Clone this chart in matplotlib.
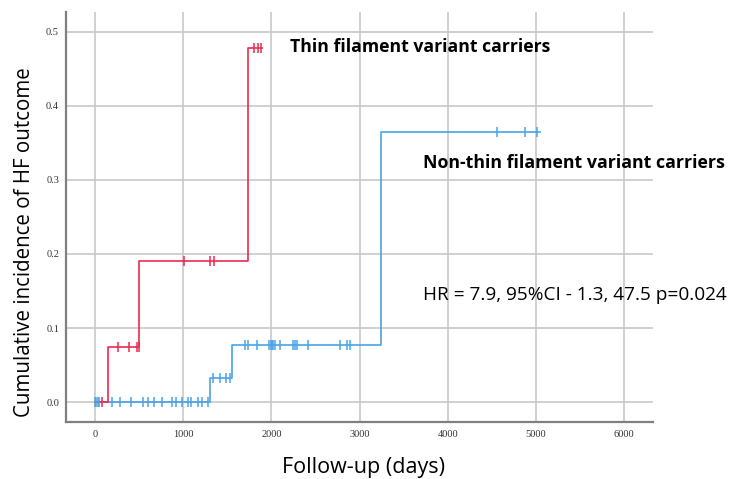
import numpy as np
from matplotlib import pyplot as plt

# thin filament variant carriers (red)
thin_t = [0, 150, 500, 1735]
thin_y = [0.0, 0.074, 0.191, 0.479]
thin_end = 1893
thin_cens = [80, 265, 390, 480, 495, 1010, 1305, 1350, 1800, 1850, 1880]

# non-thin filament variant carriers (blue)
non_t = [0, 1305, 1550, 3245]
non_y = [0.0, 0.033, 0.077, 0.365]
non_end = 5045
non_cens = [0, 15, 30, 50, 190, 285, 410, 545, 605, 670, 760, 875, 915, 990,
            1055, 1090, 1170, 1215, 1285, 1340, 1420, 1480, 1530, 1700, 1735,
            1835, 1975, 1990, 2005, 2020, 2040, 2100, 2250, 2270, 2290, 2415,
            2780, 2860, 2890, 4560, 4875, 5010]

x_ticks = [0, 1000, 2000, 3000, 4000, 5000, 6000]
y_ticks = [0.0, 0.1, 0.2, 0.3, 0.4, 0.5]

red = '#ec2a52'
blue = '#4aa3e8'

fig = plt.figure(figsize=(7.32, 4.79), dpi=100)
ax = fig.add_axes([0.0902, 0.119, 0.802, 0.856])


def draw_curve(t, y, end, cens, color):
    xs = list(t) + [end]
    ys = list(y) + [y[-1]]
    ax.step(xs, ys, where='post', color=color, lw=1.2, zorder=3)
    # censor marks sit on the curve
    idx = np.searchsorted(t, cens, side='right') - 1
    cy = np.array(y)[idx]
    ax.plot(cens, cy, linestyle='none', marker='|', ms=6.5, mew=1.1,
            color=color, zorder=4)


draw_curve(non_t, non_y, non_end, non_cens, blue)
draw_curve(thin_t, thin_y, thin_end, thin_cens, red)

ax.set_xlim(-329, 6327)
ax.set_ylim(-0.027, 0.527)
ax.set_xticks(x_ticks)
ax.set_yticks(y_ticks)
ax.set_xticklabels([str(v) for v in x_ticks], family='Liberation Serif',
                   fontsize=7.5, color='#333333')
ax.set_yticklabels(['%.1f' % v for v in y_ticks], family='Liberation Serif',
                   fontsize=7.5, color='#333333')
ax.tick_params(axis='y', length=0, pad=5)
ax.tick_params(axis='x', length=0, pad=6)
ax.grid(True, color='#c8c8c8', lw=1.2)
ax.set_axisbelow(True)
for s in ['top', 'right']:
    ax.spines[s].set_visible(False)
for s in ['left', 'bottom']:
    ax.spines[s].set_color('#808080')
    ax.spines[s].set_linewidth(1.6)

fig.text(0.034, 0.495, 'Cumulative incidence of HF outcome', rotation=90,
         ha='center', va='center', family='Open Sans', fontsize=14.8)
fig.text(0.497, 0.023, 'Follow-up (days)', ha='center', va='center',
         family='Open Sans', fontsize=15.5)

fig.text(290 / 732, 1 - 47 / 479, 'Thin filament variant carriers',
         ha='left', va='center', family='Open Sans', fontweight='bold',
         fontsize=12.7)
fig.text(423 / 732, 1 - 163 / 479, 'Non-thin filament variant carriers',
         ha='left', va='center', family='Open Sans', fontweight='bold',
         fontsize=12.75)
fig.text(423 / 732, 1 - 295 / 479, 'HR = 7.9, 95%CI - 1.3, 47.5 p=0.024',
         ha='left', va='center', family='Open Sans', fontsize=13.7)

plt.savefig('out.png', dpi=100)
